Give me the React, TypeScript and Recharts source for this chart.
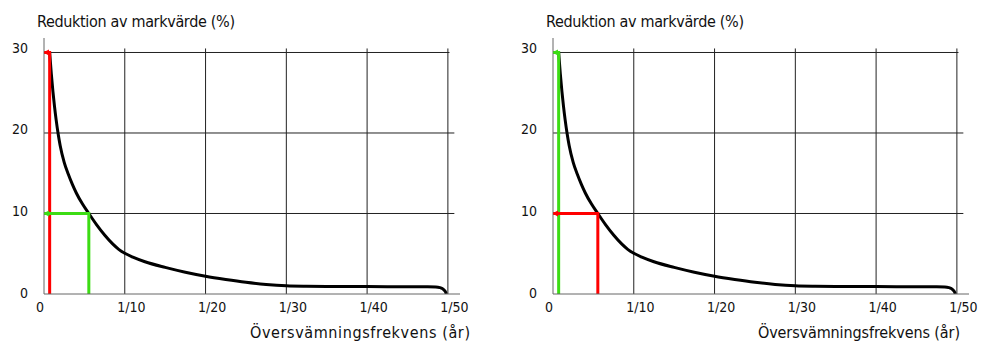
import { LineChart, Line, XAxis, YAxis, ReferenceLine } from 'recharts';

const xTicks = [0, 10, 20, 30, 40, 50];
const xTickLabels = ['0', '1/10', '1/20', '1/30', '1/40', '1/50'];
const yTicks = [0, 10, 20, 30];

// curve: flood frequency (1/x years) vs reduction of land value (%)
const curveX = [0.7, 0.9, 1.1, 1.3, 1.5, 1.75, 2.0, 2.5, 3.0, 3.5, 4.0, 4.75, 5.55, 6.5, 7.5, 8.5, 9.25, 10, 11, 12.5, 15, 17.5, 20, 22.5, 25, 27.5, 30, 32.5, 35, 40, 45, 47.5, 48.5, 49.0, 49.3, 49.55, 49.7, 49.8];
const curveY = [30, 27.4, 25.2, 23.3, 21.66, 19.9, 18.45, 16.35, 14.9, 13.65, 12.55, 11.2, 10.0, 8.62, 7.32, 6.22, 5.545, 5.06, 4.58, 4.01, 3.31, 2.71, 2.21, 1.81, 1.46, 1.185, 1.01, 0.95, 0.93, 0.92, 0.91, 0.9, 0.88, 0.8, 0.68, 0.48, 0.28, 0];

// reading guides
const readAX = [0, 0.7, 0.7];
const readAY = [30, 30, 0];
const readBX = [0, 5.55, 5.55];
const readBY = [10, 10, 0];

const xTitle = 'Översvämningsfrekvens (år)';
const yTitle = 'Reduktion av markvärde (%)';

const RED = '#ff0000';
const GREEN = '#3cdc14';
const FONT = "'DejaVu Sans Condensed', 'DejaVu Sans', sans-serif";

const curve = curveX.map((x, i) => ({ x, y: curveY[i] }));
const readA = readAX.map((x, i) => ({ x, y: readAY[i] }));
const readB = readBX.map((x, i) => ({ x, y: readBY[i] }));

const arrowDot = (color: string) => (props: any) => {
  const { cx, cy, index } = props;
  if (index !== 0) return <g key={`d-${index}`} />;
  return (
    <path
      key={`d-${index}`}
      d={`M${cx - 1},${cy} L${cx + 5},${cy - 3} L${cx + 5},${cy + 3} Z`}
      fill={color}
    />
  );
};

const XTick = (props: any) => {
  const { x, y, payload } = props;
  const i = xTicks.indexOf(payload.value);
  const dx = payload.value === 0 ? -4 : 6.5;
  return (
    <text x={x + dx} y={y} dy="0.71em" textAnchor="middle" fontSize={14} fill="#111" fontFamily={FONT} style={{ fontStretch: 'condensed' }}>
      {xTickLabels[i]}
    </text>
  );
};

const YTick = (props: any) => {
  const { x, y, payload } = props;
  return (
    <text x={x} y={y - 1 - payload.value * 0.13} dy="0.36em" textAnchor="end" fontSize={14} fill="#111" fontFamily={FONT} style={{ fontStretch: 'condensed' }}>
      {payload.value}
    </text>
  );
};

const Panel = ({ first, second }: { first: string; second: string }) => (
  <LineChart width={472} height={343} margin={{ top: 38, right: 12, left: 0, bottom: 19 }}>
    <XAxis
      type="number"
      dataKey="x"
      domain={[0, 51.5]}
      ticks={xTicks}
      interval={0}
      tickLine={false}
      tickSize={6}
      tickMargin={2}
      height={30}
      axisLine={{ stroke: '#666' }}
      tick={<XTick />}
      allowDataOverflow
    />
    <YAxis
      type="number"
      dataKey="y"
      domain={[0, 31.8]}
      ticks={yTicks}
      interval={0}
      tickLine={false}
      tickSize={6}
      tickMargin={10}
      width={44}
      axisLine={{ stroke: '#666' }}
      tick={<YTick />}
      allowDataOverflow
    />
    {xTicks.slice(1).map((t) => (
      <ReferenceLine key={`vx-${t}`} segment={[{ x: t, y: 0 }, { x: t, y: 30.5 }]} stroke="#222" strokeWidth={1} />
    ))}
    {yTicks.slice(1).map((t) => (
      <ReferenceLine key={`hy-${t}`} segment={[{ x: 0, y: t }, { x: t === 30 ? 50.2 : 50.8, y: t }]} stroke="#222" strokeWidth={1} />
    ))}
    <Line data={curve} dataKey="y" type="monotoneX" stroke="#000" strokeWidth={3} dot={false} isAnimationActive={false} />
    <Line data={readA} dataKey="y" type="linear" stroke={first} strokeWidth={3} dot={arrowDot(first)} isAnimationActive={false} />
    <Line data={readB} dataKey="y" type="linear" stroke={second} strokeWidth={3} dot={arrowDot(second)} isAnimationActive={false} />
  </LineChart>
);

export default function App() {
  return (
    <div style={{ position: 'absolute', left: 0, top: 0, width: 981, height: 343, background: '#fff', overflow: 'hidden' }}>
      <div style={{ position: 'absolute', left: 0, top: 0 }}>
        <Panel first={RED} second={GREEN} />
      </div>
      <div style={{ position: 'absolute', left: 509, top: 0 }}>
        <Panel first={GREEN} second={RED} />
      </div>
      <svg width={981} height={343} style={{ position: 'absolute', left: 0, top: 0, pointerEvents: 'none' }}>
        <g fontFamily={FONT} fontSize={16} fill="#111" style={{ fontStretch: 'condensed' }}>
          <text x={37} y={27} textLength={198} lengthAdjust="spacing">{yTitle}</text>
          <text x={546} y={27} textLength={198} lengthAdjust="spacing">{yTitle}</text>
          <text x={250} y={338} textLength={220} lengthAdjust="spacing">{xTitle}</text>
          <text x={758} y={338} textLength={202} lengthAdjust="spacing">{xTitle}</text>
        </g>
      </svg>
    </div>
  );
}
